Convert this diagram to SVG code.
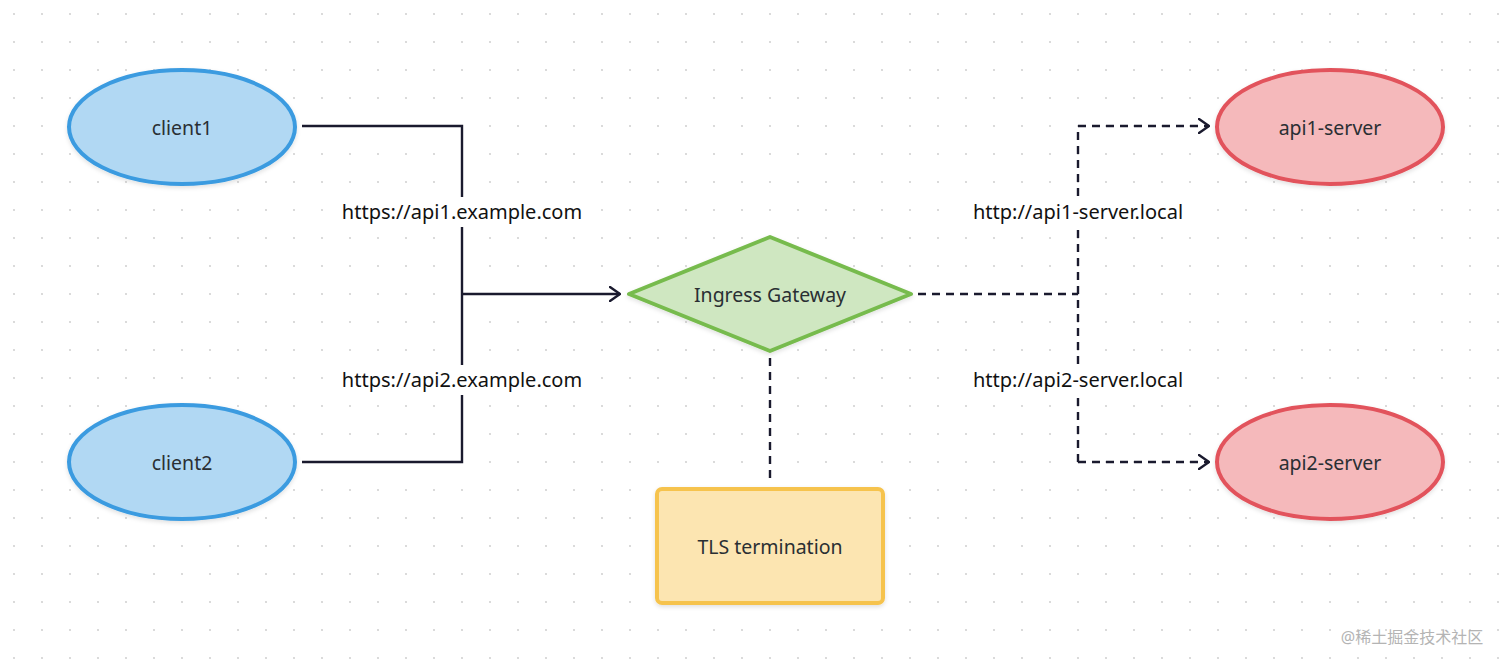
<svg xmlns="http://www.w3.org/2000/svg" width="1512" height="672" viewBox="0 0 1512 672">
<defs>
<pattern id="dots" x="0" y="0" width="28" height="28" patternUnits="userSpaceOnUse">
<circle cx="14" cy="14" r="1.1" fill="#d2d2d2"/>
</pattern>
<marker id="arr" viewBox="0 0 12 16" refX="11" refY="8" markerWidth="12" markerHeight="16" markerUnits="userSpaceOnUse" orient="auto">
<path d="M1,1 L11,8 L1,15" fill="none" stroke="#1a1a2e" stroke-width="2.4" stroke-linecap="round" stroke-linejoin="round"/>
</marker>
<filter id="sh" x="-10%" y="-10%" width="120%" height="130%">
<feDropShadow dx="0" dy="2" stdDeviation="2" flood-color="#000" flood-opacity="0.12"/>
</filter>
<style>
.t{font-family:"Noto Sans","Open Sans",sans-serif;font-size:19.5px;fill:#2a2f33;text-anchor:middle;dominant-baseline:central}
.lbl{font-family:"Noto Sans","Open Sans",sans-serif;font-size:20px;fill:#111;text-anchor:middle;dominant-baseline:central}
.blue{fill:#b1d8f3;stroke:#3b9be0;stroke-width:4}
.red{fill:#f5b9bb;stroke:#e2535b;stroke-width:4}
.green{fill:#cfe7c1;stroke:#77bb4d;stroke-width:4;stroke-linejoin:round}
.yellow{fill:#fce5b1;stroke:#f6c34e;stroke-width:4}
.solid{fill:none;stroke:#1a1a2e;stroke-width:2.4}
.dash{fill:none;stroke:#1a1a2e;stroke-width:2.4;stroke-dasharray:8 6}
.bg{fill:#fff}
</style>
</defs>
<rect width="1512" height="672" fill="#fff"/>
<rect width="1512" height="672" fill="url(#dots)"/>

<g id="connectors">
<path class="solid" d="M302,126 H462 V462 H302"/>
<path class="solid" d="M462,294 H620" marker-end="url(#arr)"/>
<path class="dash" d="M918,294 H1078"/>
<path class="dash" d="M1078,462 V126 H1209" marker-end="url(#arr)"/>
<path class="dash" d="M1078,462 H1209" marker-end="url(#arr)"/>
<path class="dash" d="M770,358 V482"/>
<rect class="bg" x="334" y="197" width="256" height="30"/>
<text class="lbl" x="462" y="211">https://api1.example.com</text>
<rect class="bg" x="334" y="365" width="256" height="30"/>
<text class="lbl" x="462" y="379">https://api2.example.com</text>
<rect class="bg" x="960" y="197" width="236" height="30"/>
<text class="lbl" x="1078" y="211">http://api1-server.local</text>
<rect class="bg" x="960" y="365" width="236" height="30"/>
<text class="lbl" x="1078" y="379">http://api2-server.local</text>
</g>

<g id="client1">
<ellipse class="blue" cx="182" cy="127" rx="113" ry="57" filter="url(#sh)"/>
<text class="t" x="182" y="127">client1</text>
</g>
<g id="client2">
<ellipse class="blue" cx="182" cy="462" rx="113" ry="57" filter="url(#sh)"/>
<text class="t" x="182" y="462">client2</text>
</g>
<g id="gateway">
<path class="green" d="M770,237 L911,294 L770,351 L629,294 Z" filter="url(#sh)"/>
<text class="t" x="770" y="294">Ingress Gateway</text>
</g>
<g id="tls">
<rect class="yellow" x="657" y="489" width="226" height="114" rx="5" filter="url(#sh)"/>
<text class="t" x="770" y="546">TLS termination</text>
</g>
<g id="api1">
<ellipse class="red" cx="1330" cy="127" rx="113" ry="57" filter="url(#sh)"/>
<text class="t" x="1330" y="127">api1-server</text>
</g>
<g id="api2">
<ellipse class="red" cx="1330" cy="462" rx="113" ry="57" filter="url(#sh)"/>
<text class="t" x="1330" y="462">api2-server</text>
</g>
<text x="1412" y="637" font-family="'Noto Sans','Noto Sans CJK SC',sans-serif" font-size="16" fill="#b4b4b4" text-anchor="middle" dominant-baseline="central">@稀土掘金技术社区</text>
</svg>
